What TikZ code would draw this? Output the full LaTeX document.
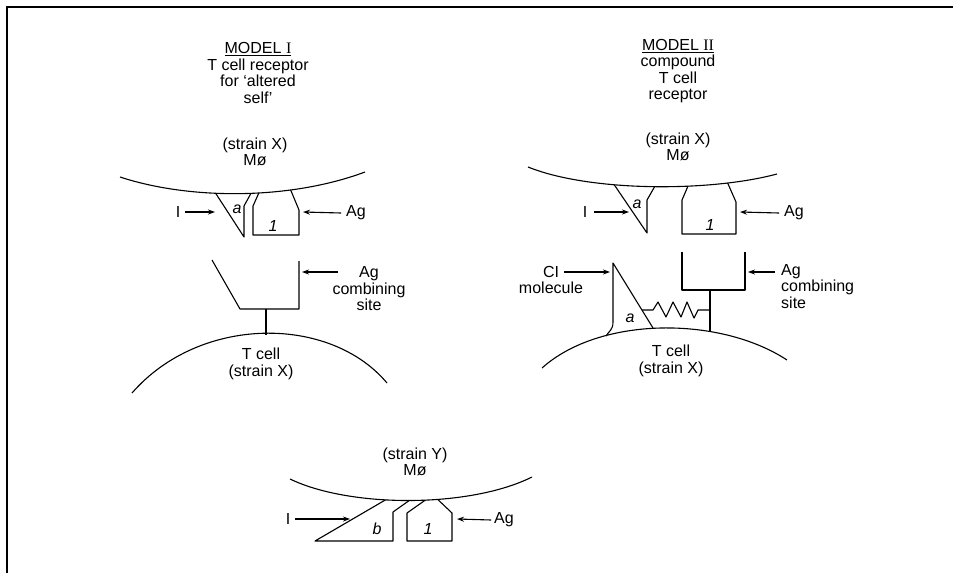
\documentclass[tikz,border=0pt]{standalone}
\usepackage{fontspec}
\setmainfont{Liberation Sans}
\newfontfamily\romnum{Liberation Serif}
\usetikzlibrary{arrows.meta}
\begin{document}
\begin{tikzpicture}[x=1pt,y=-1pt,
  lbl/.style={font=\fontsize{16}{16.5}\selectfont, align=center, inner sep=0pt},
  lbll/.style={font=\fontsize{16}{16.5}\selectfont, align=left, inner sep=0pt},
  tag/.style={font=\fontsize{16}{16}\selectfont\itshape, inner sep=0pt},
  ln/.style={line width=1.1pt, line join=round},
  arr/.style={line width=1.1pt, -{Stealth[length=7pt,width=5pt]}},
  frameline/.style={line width=1.6pt}]
\useasboundingbox (0,0) rectangle (953,573);

% frame
\coordinate (fTL) at (7,7);
\coordinate (fTR) at (953,7);
\coordinate (fBL) at (7,573);
\draw[frameline] (fTR) -- (fTL) -- (fBL);

% ================= MODEL I =================
\node[lbl] (t1) at (258,73) {\underline{MODEL {\romnum I}}\\T cell receptor\\for ‘altered\\self’};
\node[lbl] (m1) at (255,152) {(strain X)\\M\o};
\draw[ln] (120,177) .. controls (190,200) and (290,200) .. (365,172);
\begin{scope}
  \clip (120,177) .. controls (190,200) and (290,200) .. (365,172) -- (365,260) -- (120,260) -- cycle;
  \draw[ln] (209,183) -- (244,237) -- (244,206) -- (255,186);
  \draw[ln] (262,186) -- (253,206) -- (253,235) -- (299,235) -- (299,210) -- (289,186);
\end{scope}
\node[tag] (a1) at (237,209) {a};
\node[tag] (n1) at (273,226) {1};
\node[lbl] (I1) at (178,212) {I};
\coordinate (I1tip) at (215,212);
\draw[arr] ([xshift=5pt]I1.east) -- (I1tip);
\node[lbl] (Ag1) at (356,213) {Ag};
\coordinate (Ag1tip) at (303,212);
\draw[arr] ([xshift=-5pt]Ag1.west) -- (Ag1tip);

% receptor
\draw[ln] (212,260) -- (240,309) -- (299,309) -- (299,261);
\draw[ln] (266,309) -- (266,335);
\node[lbl] (acs1) at (369,289) {Ag\\combining\\site};
\coordinate (acs1tip) at (302,272);
\draw[arr] (338,272) -- (acs1tip);
\draw[ln] (132,393) .. controls (200,315) and (330,315) .. (387,383);
\node[lbl] (tc1) at (261,364) {T cell\\(strain X)};

% ================= MODEL II =================
\node[lbl] (t2) at (678,71) {\underline{MODEL {\romnum II}}\\compound\\T cell\\receptor};
\node[lbl] (m2) at (678,147) {(strain X)\\M\o};
\draw[ln] (528,167) .. controls (590,192) and (710,192) .. (777,174);
\begin{scope}
  \clip (528,167) .. controls (590,192) and (710,192) .. (777,174) -- (777,260) -- (528,260) -- cycle;
  \draw[ln] (607.6,175) -- (647,233) -- (647,200) -- (659,179);
  \draw[ln] (691,179) -- (682,200) -- (682,234) -- (736,234) -- (736,202) -- (725,177);
\end{scope}
\node[tag] (a2) at (637,204) {a};
\node[tag] (n2) at (710,225) {1};
\node[lbl] (I2) at (585,212) {I};
\coordinate (I2tip) at (629,212);
\draw[arr] ([xshift=7pt]I2.east) -- (I2tip);
\node[lbl] (Ag2) at (794,213) {Ag};
\coordinate (Ag2tip) at (740,212);
\draw[arr] ([xshift=-5pt]Ag2.west) -- (Ag2tip);

% compound receptor
\draw[ln] (682,252) -- (682,290) -- (745,290) -- (745,252);
\draw[ln] (710,290) -- (710,332);
\draw[ln] (653,328) -- (613,263) -- (613,322) .. controls (613,330) and (609,331) .. (606,336);
\draw[ln] (642,310) -- (653,310) -- (658,302) -- (666,317) -- (673,302) -- (681,317) -- (687,302) -- (694,318) -- (698,310) -- (710,310);
\node[tag] (a3) at (630,318) {a};
\node[lbl] (ci) at (551,280) {CI\\molecule};
\coordinate (citip) at (610,272);
\draw[arr] (564,272) -- (citip);
\node[lbll, anchor=north west] (acs2) at (781,264) {Ag\\combining\\site};
\coordinate (acs2tip) at (748,272);
\draw[arr] (775,272) -- (acs2tip);
\draw[ln] (542,368) .. controls (600,316) and (720,316) .. (787,360);
\node[lbl] (tc2) at (671,361) {T cell\\(strain X)};

% ================= strain Y =================
\node[lbl] (m3) at (415,462) {(strain Y)\\M\o};
\draw[ln] (290,479) .. controls (350,508) and (470,508) .. (532,477);
\begin{scope}
  \clip (290,479) .. controls (350,508) and (470,508) .. (532,477) -- (532,560) -- (290,560) -- cycle;
  \draw[ln] (399,492) -- (315,541) -- (393,541) -- (393,512) -- (417,495);
  \draw[ln] (434,494) -- (407,513) -- (407,541) -- (452,541) -- (452,513) -- (432,494);
\end{scope}
\node[tag] (b3) at (377,529) {b};
\node[tag] (n3) at (428,529) {1};
\node[lbl] (I3) at (288,519) {I};
\coordinate (I3tip) at (350,519);
\draw[arr] ([xshift=5pt]I3.east) -- (I3tip);
\node[lbl] (Ag3) at (504,520) {Ag};
\coordinate (Ag3tip) at (457,519);
\draw[arr] ([xshift=-3pt]Ag3.west) -- (Ag3tip);
\end{tikzpicture}
\end{document}
